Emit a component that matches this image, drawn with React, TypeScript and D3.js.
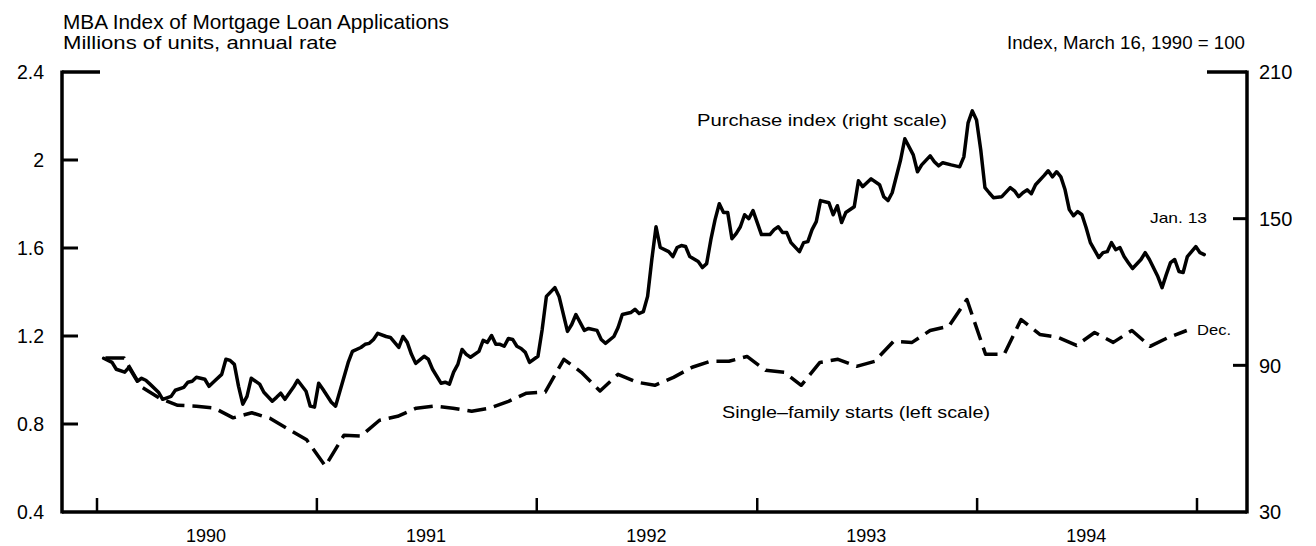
import React from "react";
import * as d3 from "d3";

// Purchase index (right scale): [week number from Jan. 12, 1990, index value]
const purchaseStart = new Date(1990, 0, 12);
const purchaseIndex: [number, number][] = [
  [0, 92.9], [2, 91.2], [3, 88.4], [5, 87.2], [6, 89.2], [7, 86.3], [8, 83.5], [9, 84.7], [10, 83.9], [11, 82.3],
  [13, 79.0], [14, 76.1], [16, 77.3], [17, 79.8], [19, 81.0], [20, 83.1], [21, 83.5], [22, 85.1], [24, 84.3], [25, 81.4],
  [26, 83.1], [28, 86.3], [29, 92.5], [30, 92.0], [31, 90.4], [32, 81.4], [33, 74.1], [34, 77.3], [35, 84.7], [37, 82.3],
  [38, 79.0], [40, 75.3], [41, 76.9], [42, 78.6], [43, 76.1], [45, 81.0], [46, 83.9], [48, 79.4], [49, 73.3], [50, 72.9],
  [51, 82.7], [52, 80.2], [54, 74.9], [55, 73.3],
  [58, 91.2], [59, 95.7], [61, 97.3], [62, 98.6], [63, 99.0], [64, 100.6], [65, 103.1], [67, 101.8], [68, 101.4], [70, 97.3],
  [71, 101.8], [72, 99.4], [73, 94.5], [74, 90.8], [76, 93.7], [77, 92.5], [78, 88.4], [80, 82.7], [81, 83.1], [82, 82.3],
  [83, 87.2], [84, 90.4], [85, 96.5], [86, 94.5], [87, 93.3], [89, 95.7], [90, 100.2], [91, 99.4], [92, 102.2], [93, 98.6],
  [94, 98.6], [95, 97.8], [96, 101.0], [97, 100.6], [98, 97.8], [99, 96.9], [100, 95.3], [101, 91.2], [103, 93.7], [104, 104.7],
  [105, 118.2], [107, 121.8],
  [108, 118.2], [110, 103.9], [111, 106.7], [112, 110.8], [114, 104.3], [115, 105.1], [117, 104.3], [118, 100.6], [119, 99.0],
  [121, 101.8], [122, 105.5], [123, 110.8], [125, 111.6], [126, 112.9], [127, 111.2], [128, 112.0], [129, 118.2], [130, 133.3],
  [131, 146.7], [132, 138.2], [134, 136.5], [135, 134.5], [136, 138.2], [137, 139.0], [138, 138.6], [139, 134.5], [141, 132.5],
  [142, 130.0], [143, 131.6], [144, 141.4], [145, 149.6], [146, 156.1], [147, 152.5], [148, 152.5], [149, 141.8], [150, 143.9],
  [151, 146.7], [152, 151.6], [153, 150.0], [154, 153.3], [155, 148.4], [156, 143.5], [158, 143.5], [159, 145.5],
  [160, 146.7], [161, 144.3], [162, 144.3], [163, 140.2], [165, 136.5], [166, 140.2], [167, 140.6], [168, 145.5], [169, 148.8],
  [170, 157.4], [172, 156.5], [173, 151.6], [174, 155.3], [175, 148.4], [176, 152.5], [178, 154.9], [179, 165.5], [180, 163.1],
  [181, 164.7], [182, 166.3], [184, 163.9], [185, 159.0], [186, 157.4], [187, 160.6], [189, 174.1], [190, 182.7], [192, 176.1],
  [193, 169.2], [194, 172.0], [196, 175.7], [197, 173.3], [198, 171.6], [199, 172.9], [201, 172.0], [203, 171.2], [204, 175.3],
  [205, 189.2], [206, 194.1], [207, 190.4], [208, 178.2], [209, 162.7], [210, 160.6], [211, 158.6],
  [213, 159.0], [215, 162.7], [216, 161.4], [217, 159.0], [218, 160.6], [219, 161.8], [220, 160.2], [221, 163.9], [223, 167.6],
  [224, 169.6], [225, 167.1], [226, 169.2], [227, 167.1], [228, 161.8], [229, 153.7], [230, 151.2], [231, 152.9], [232, 151.6],
  [233, 146.3], [234, 140.2], [236, 134.1], [237, 136.1], [238, 136.5], [239, 140.2], [240, 137.3], [241, 138.2], [242, 134.5],
  [243, 132.0], [244, 129.6], [246, 133.3], [247, 136.1], [248, 133.3], [250, 126.3], [251, 121.8], [252, 127.1], [253, 132.0],
  [254, 133.3], [255, 128.4], [256, 128.0], [257, 134.5], [259, 138.6], [260, 136.1], [261, 135.3],
];

// Single-family starts (left scale), monthly, Jan. 1990 - Dec. 1994, millions of units
const startsStartYear = 1990;
const singleFamilyStarts = [
  1.10, 1.10, 0.97, 0.917, 0.885, 0.881, 0.872, 0.828, 0.851, 0.826, 0.776, 0.728,
  0.609, 0.749, 0.745, 0.817, 0.835, 0.872, 0.881, 0.872, 0.858, 0.872, 0.903, 0.94,
  0.945, 1.094, 1.035, 0.95, 1.026, 0.99, 0.976, 1.012, 1.058, 1.085, 1.085, 1.107,
  1.044, 1.035, 0.976, 1.08, 1.094, 1.062, 1.085, 1.175, 1.171, 1.225, 1.244, 1.366,
  1.117, 1.117, 1.275, 1.207, 1.194, 1.157, 1.216, 1.171, 1.225, 1.153, 1.194, 1.225,
];

const years = [1990, 1991, 1992, 1993, 1994];
const yearTicks = [1990, 1991, 1992, 1993, 1994, 1995];
const leftTicks = [0.4, 0.8, 1.2, 1.6, 2.0, 2.4];
const leftTickLabels = ["0.4", "0.8", "1.2", "1.6", "2", "2.4"];
const rightTicks = [30, 90, 150, 210];

const FONT = "Arial, 'Liberation Sans', Helvetica, sans-serif";

export default function App() {
  const W = 1316;
  const H = 546;
  const xLeft = 62;
  const xRight = 1247;
  const yTop = 72;
  const yBottom = 512;

  const x = d3.scaleTime().domain([new Date(1990, 0, 1), new Date(1995, 0, 1)]).range([97, 1197]);
  const yL = d3.scaleLinear().domain([0.4, 2.4]).range([yBottom, yTop]);
  const yR = d3.scaleLinear().domain([30, 210]).range([yBottom, yTop]);

  const purchasePts = purchaseIndex.map(([w, v]) => ({ d: d3.timeDay.offset(purchaseStart, w * 7), v }));
  const startsPts = singleFamilyStarts.map((v, i) => ({ d: new Date(startsStartYear, i, 15), v }));

  const purchaseLine = d3.line<{ d: Date; v: number }>().x((p) => x(p.d)).y((p) => yR(p.v)).curve(d3.curveLinear);
  const startsLine = d3.line<{ d: Date; v: number }>().x((p) => x(p.d)).y((p) => yL(p.v)).curve(d3.curveLinear);

  const axisW = 3.5;

  return (
    <svg width={W} height={H} style={{ position: "absolute", left: 0, top: 0, background: "#fff" }} fontFamily={FONT}>
      <rect x={0} y={0} width={W} height={H} fill="#fff" />
      {/* titles */}
      <text x={63} y={28.5} fontSize={21} fill="#000" textLength={386} lengthAdjust="spacingAndGlyphs">MBA Index of Mortgage Loan Applications</text>
      <text x={63} y={49} fontSize={17.5} fill="#000" textLength={274} lengthAdjust="spacingAndGlyphs">Millions of units, annual rate</text>
      <text x={1007} y={49} fontSize={17.5} fill="#000" textLength={238} lengthAdjust="spacingAndGlyphs">Index, March 16, 1990 = 100</text>

      {/* frame */}
      <line x1={xLeft} x2={xLeft} y1={yTop - 1.5} y2={yBottom + 1.5} stroke="#000" strokeWidth={axisW} />
      <line x1={xRight} x2={xRight} y1={yTop - 1.5} y2={yBottom + 1.5} stroke="#000" strokeWidth={axisW} />
      <line x1={xLeft} x2={xRight} y1={yBottom} y2={yBottom} stroke="#000" strokeWidth={axisW} />

      {/* left ticks */}
      {leftTicks.map((t, i) => (
        <g key={"l" + t}>
          {t < 2.4 && t > 0.4 && (
            <line x1={xLeft} x2={xLeft + 16} y1={yL(t)} y2={yL(t)} stroke="#000" strokeWidth={3} />
          )}
          {t === 2.4 && <line x1={xLeft} x2={xLeft + 38} y1={yL(t)} y2={yL(t)} stroke="#000" strokeWidth={3.5} />}
          <text x={44} y={yL(t)} dy="0.36em" fontSize={19.5} textAnchor="end" fill="#000">{leftTickLabels[i]}</text>
        </g>
      ))}

      {/* right ticks */}
      {rightTicks.map((t) => (
        <g key={"r" + t}>
          {t > 30 && t < 210 && (
            <line x1={xRight - 14} x2={xRight} y1={yR(t)} y2={yR(t)} stroke="#000" strokeWidth={3} />
          )}
          {t === 210 && <line x1={xRight - 40} x2={xRight} y1={yR(t)} y2={yR(t)} stroke="#000" strokeWidth={3.5} />}
          <text x={1259} y={yR(t)} dy="0.36em" fontSize={20} fill="#000">{t}</text>
        </g>
      ))}

      {/* year ticks */}
      {yearTicks.map((yv) => (
        <line key={"yt" + yv} x1={x(new Date(yv, 0, 1))} x2={x(new Date(yv, 0, 1))} y1={yBottom} y2={yBottom - 14} stroke="#000" strokeWidth={2.5} />
      ))}
      {years.map((yv) => (
        <text key={"yl" + yv} x={x(new Date(yv, 6, 1))} y={542} fontSize={18} textAnchor="middle" fill="#000">{yv}</text>
      ))}

      {/* series */}
      <path d={startsLine(startsPts) || ""} fill="none" stroke="#000" strokeWidth={3.5} strokeDasharray="19,8" strokeLinejoin="round" />
      <path d={purchaseLine(purchasePts) || ""} fill="none" stroke="#000" strokeWidth={3.5} strokeLinejoin="round" strokeLinecap="round" />

      {/* annotations */}
      <text x={697} y={126} fontSize={17} fill="#000" textLength={250} lengthAdjust="spacingAndGlyphs">Purchase index (right scale)</text>
      <text x={722} y={418} fontSize={17} fill="#000" textLength={268} lengthAdjust="spacingAndGlyphs">Single–family starts (left scale)</text>
      <text x={1150} y={223} fontSize={15} fill="#000" textLength={57} lengthAdjust="spacingAndGlyphs">Jan. 13</text>
      <text x={1197} y={335} fontSize={14} fill="#000" textLength={34} lengthAdjust="spacingAndGlyphs">Dec.</text>
    </svg>
  );
}
